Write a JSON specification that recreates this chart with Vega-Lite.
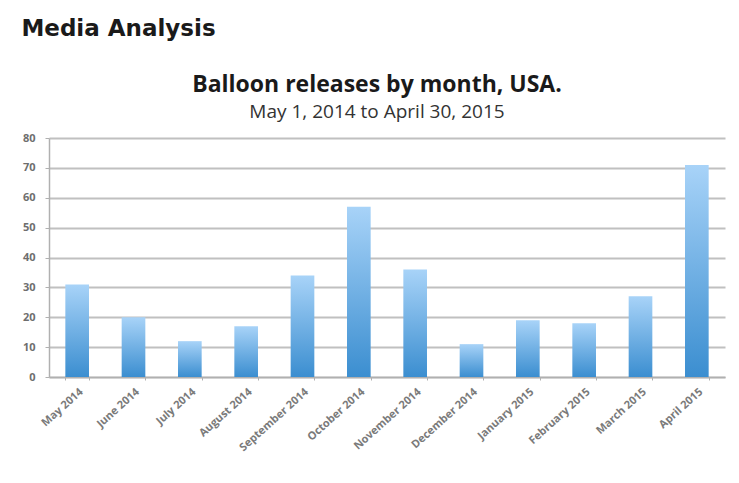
{
  "$schema": "https://vega.github.io/schema/vega-lite/v6.json",
  "background": "white",
  "padding": {"left": 21, "top": 18, "right": 8, "bottom": 4},
  "title": {
    "text": "Media Analysis",
    "anchor": "start",
    "font": "DejaVu Sans",
    "fontSize": 23,
    "fontWeight": "bold",
    "color": "#1a1a1a",
    "dx": -1,
    "offset": 33
  },
  "vconcat": [
    {
      "width": 676,
      "height": 239,
      "title": {
        "text": "Balloon releases by month, USA.",
        "subtitle": "May 1, 2014 to April 30, 2015",
        "anchor": "middle",
        "dx": -10,
        "font": "Open Sans",
        "fontSize": 23,
        "fontWeight": "bold",
        "color": "#1a1a1a",
        "subtitleFont": "Open Sans",
        "subtitleFontSize": 19,
        "subtitleColor": "#333333",
        "subtitlePadding": 6,
        "offset": 10
      },
      "data": {
        "values": [
          {"month": "May 2014", "releases": 31},
          {"month": "June 2014", "releases": 20},
          {"month": "July 2014", "releases": 12},
          {"month": "August 2014", "releases": 17},
          {"month": "September 2014", "releases": 34},
          {"month": "October 2014", "releases": 57},
          {"month": "November 2014", "releases": 36},
          {"month": "December 2014", "releases": 11},
          {"month": "January 2015", "releases": 19},
          {"month": "February 2015", "releases": 18},
          {"month": "March 2015", "releases": 27},
          {"month": "April 2015", "releases": 71}
        ]
      },
      "mark": {
        "type": "bar",
        "color": {
          "gradient": "linear",
          "x1": 0, "y1": 0, "x2": 0, "y2": 1,
          "stops": [
            {"offset": 0, "color": "#a8d3f8"},
            {"offset": 1, "color": "#3b8ed0"}
          ]
        }
      },
      "encoding": {
        "x": {
          "field": "month",
          "type": "nominal",
          "sort": null,
          "title": null,
          "scale": {"paddingInner": 0.58, "paddingOuter": 0.29},
          "axis": {
            "labelAngle": -42,
            "labelAlign": "right",
            "labelBaseline": "middle",
            "labelFont": "Open Sans",
            "labelFontSize": 11,
            "labelFontWeight": "bold",
            "labelColor": "#7a7a7a",
            "labelPadding": 10,
            "labelOffset": 4,
            "tickBand": "extent",
            "tickColor": "#b0b0b0",
            "tickSize": 3,
            "domainColor": "#b0b0b0",
            "domainWidth": 1.5
          }
        },
        "y": {
          "field": "releases",
          "type": "quantitative",
          "title": null,
          "scale": {"domain": [0, 80]},
          "axis": {
            "values": [0, 10, 20, 30, 40, 50, 60, 70, 80],
            "labelFont": "Open Sans",
            "labelFontSize": 11,
            "labelFontWeight": "bold",
            "labelColor": "#6e6e6e",
            "labelPadding": 10,
            "tickColor": "#b0b0b0",
            "tickSize": 4,
            "domainColor": "#b0b0b0",
            "domainWidth": 1.5,
            "gridColor": "#c0c0c0",
            "gridWidth": 2
          }
        }
      }
    }
  ],
  "config": {
    "view": {"stroke": null}
  }
}
